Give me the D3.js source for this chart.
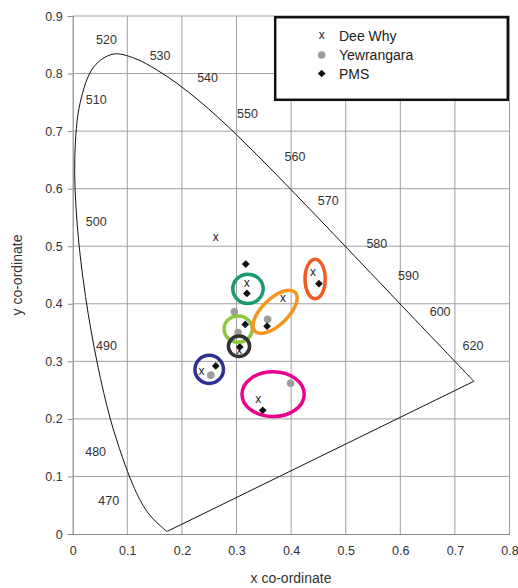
<!DOCTYPE html>
<html>
<head>
<meta charset="utf-8">
<script src="https://cdn.jsdelivr.net/npm/d3@7"></script>
<style>
  html, body { margin: 0; padding: 0; background: #fff; }
  svg { display: block; }
  text { font-family: "Liberation Sans", Arial, sans-serif; fill: #333; }
</style>
</head>
<body>
<svg id="chart" width="518" height="588"></svg>
<script>
// CIE 1931 spectral locus, 380–700 nm in 5 nm steps
const locusX = [0.1741,0.1740,0.1738,0.1736,0.1733,0.1730,0.1726,0.1721,0.1714,0.1703,0.1689,0.1669,0.1644,0.1611,0.1566,0.1510,0.1440,0.1355,0.1241,0.1096,0.0913,0.0687,0.0454,0.0235,0.0082,0.0039,0.0139,0.0389,0.0743,0.1142,0.1547,0.1929,0.2296,0.2658,0.3016,0.3373,0.3731,0.4087,0.4441,0.4788,0.5125,0.5448,0.5752,0.6029,0.6270,0.6482,0.6658,0.6801,0.6915,0.7006,0.7079,0.7140,0.7190,0.7230,0.7260,0.7283,0.7300,0.7311,0.7320,0.7327,0.7334,0.7340,0.7344,0.7346,0.7347];
const locusY = [0.0050,0.0050,0.0049,0.0049,0.0048,0.0048,0.0048,0.0048,0.0051,0.0058,0.0069,0.0086,0.0109,0.0138,0.0177,0.0227,0.0297,0.0399,0.0578,0.0868,0.1327,0.2007,0.2950,0.4127,0.5384,0.6548,0.7502,0.8120,0.8338,0.8262,0.8059,0.7816,0.7543,0.7243,0.6923,0.6589,0.6245,0.5896,0.5547,0.5202,0.4866,0.4544,0.4242,0.3965,0.3725,0.3514,0.3340,0.3197,0.3083,0.2993,0.2920,0.2859,0.2809,0.2770,0.2740,0.2717,0.2700,0.2689,0.2680,0.2673,0.2666,0.2660,0.2656,0.2654,0.2653];

// wavelength labels (nm) and where they sit in chromaticity space
const waveLabels = ["520","530","540","550","560","570","580","590","600","620","510","500","490","480","470"];
const waveX = [0.062,0.160,0.247,0.320,0.407,0.468,0.557,0.615,0.673,0.733,0.043,0.043,0.062,0.042,0.066];
const waveY = [0.859,0.831,0.793,0.730,0.656,0.579,0.504,0.449,0.386,0.327,0.754,0.543,0.327,0.143,0.058];

// sample chromaticities
const deeWhyX = [0.262,0.319,0.385,0.440,0.305,0.236,0.340];
const deeWhyY = [0.514,0.434,0.408,0.453,0.318,0.282,0.233];
const yewrangaraX = [0.296,0.357,0.303,0.253,0.399];
const yewrangaraY = [0.386,0.373,0.350,0.276,0.262];
const pmsX = [0.317,0.319,0.316,0.356,0.451,0.306,0.262,0.348];
const pmsY = [0.469,0.418,0.364,0.361,0.435,0.325,0.292,0.215];

// grouping rings: centre, semi-axes (chromaticity units), tilt in degrees
const ringCX = [0.321,0.303,0.3046,0.250,0.367,0.444,0.3707];
const ringCY = [0.426,0.356,0.326,0.286,0.243,0.443,0.386];
const ringRX = [0.0278,0.0258,0.0194,0.0261,0.0570,0.0185,0.0513];
const ringRY = [0.0254,0.0228,0.0178,0.0245,0.0389,0.0343,0.0226];
const ringTilt = [0,0,0,0,0,0,-44];
const ringColors = ["#1b9a6c","#8dc63f","#333333","#2e3192","#ec008c","#f15a22","#f7941d"];

const xTicks = [0,0.1,0.2,0.3,0.4,0.5,0.6,0.7,0.8];
const yTicks = [0,0.1,0.2,0.3,0.4,0.5,0.6,0.7,0.8,0.9];
const legendNames = ["Dee Why","Yewrangara","PMS"];

const svg = d3.select("#chart");
const x = d3.scaleLinear().domain([0, 0.8]).range([72.7, 509.5]);
const y = d3.scaleLinear().domain([0, 0.9]).range([534, 16]);

// grid
const grid = svg.append("g").attr("stroke", "#a0a0a0").attr("stroke-width", 1);
grid.selectAll("line.v").data(xTicks.slice(1)).join("line")
  .attr("x1", d => x(d)).attr("x2", d => x(d))
  .attr("y1", y(0)).attr("y2", y(0.9));
grid.selectAll("line.h").data(yTicks.slice(1)).join("line")
  .attr("x1", x(0)).attr("x2", x(0.8))
  .attr("y1", d => y(d)).attr("y2", d => y(d));

// axes
const yAxis = svg.append("g").attr("transform", `translate(${x(0)},0)`)
  .call(d3.axisLeft(y).tickValues(yTicks).tickFormat(d3.format("")).tickSize(5).tickPadding(5));
const xAxis = svg.append("g").attr("transform", `translate(0,${y(0)})`)
  .call(d3.axisBottom(x).tickValues(xTicks).tickFormat(d3.format("")).tickSize(0).tickPadding(12));
[yAxis, xAxis].forEach(a => {
  a.selectAll("path.domain").attr("stroke", "#8a8a8a").attr("stroke-width", 1.2);
  a.selectAll(".tick line").attr("stroke", "#8a8a8a");
  a.selectAll(".tick text").attr("fill", "#333")
    .style("font-family", '"Liberation Sans", Arial, sans-serif').style("font-size", "12.5px");
});

// axis titles
svg.append("text").attr("x", 291).attr("y", 583).attr("text-anchor", "middle")
  .style("font-size", "14px").text("x co-ordinate");
svg.append("text").attr("transform", "translate(22,275) rotate(-90)").attr("text-anchor", "middle")
  .style("font-size", "14px").text("y co-ordinate");

// spectral locus (smoothed) and the straight purple line closing it
const locusPts = locusX.map((v, i) => [v, locusY[i]]);
svg.append("path")
  .datum(locusPts)
  .attr("fill", "none").attr("stroke", "#111").attr("stroke-width", 1)
  .attr("d", d3.line().x(d => x(d[0])).y(d => y(d[1])).curve(d3.curveCatmullRom.alpha(0.5)));
svg.append("path")
  .datum([locusPts[locusPts.length - 1], locusPts[0]])
  .attr("fill", "none").attr("stroke", "#111").attr("stroke-width", 1)
  .attr("d", d3.line().x(d => x(d[0])).y(d => y(d[1])));

// wavelength labels
svg.append("g").selectAll("text").data(waveLabels).join("text")
  .attr("x", (d, i) => x(waveX[i])).attr("y", (d, i) => y(waveY[i]))
  .attr("dy", "0.35em").attr("text-anchor", "middle")
  .style("font-size", "12.5px").text(d => d);

// sample points
const diamond = d3.symbol().type(d3.symbolSquare).size(30);
svg.append("g").selectAll("circle").data(yewrangaraX).join("circle")
  .attr("cx", d => x(d)).attr("cy", (d, i) => y(yewrangaraY[i]))
  .attr("r", 3.8).attr("fill", "#9d9d9d");
svg.append("g").selectAll("path").data(pmsX).join("path")
  .attr("d", diamond)
  .attr("transform", (d, i) => `translate(${x(d)},${y(pmsY[i])}) rotate(45)`)
  .attr("fill", "#111");
svg.append("g").selectAll("text").data(deeWhyX).join("text")
  .attr("x", d => x(d)).attr("y", (d, i) => y(deeWhyY[i]) + 3.2)
  .attr("text-anchor", "middle").style("font-size", "12px").style("fill", "#222")
  .text("x");

// grouping rings
const kx = x(1) - x(0), ky = y(0) - y(1);
svg.append("g").selectAll("ellipse").data(ringCX).join("ellipse")
  .attr("transform", (d, i) => `translate(${x(d)},${y(ringCY[i])}) rotate(${ringTilt[i]})`)
  .attr("rx", (d, i) => ringRX[i] * kx)
  .attr("ry", (d, i) => ringRY[i] * ky)
  .attr("fill", "none")
  .attr("stroke", (d, i) => ringColors[i])
  .attr("stroke-width", 3.5);

// legend
const lg = svg.append("g");
lg.append("rect").attr("x", 275.2).attr("y", 17.2).attr("width", 232.6).attr("height", 82.6)
  .attr("fill", "#fff").attr("stroke", "#111").attr("stroke-width", 2.5);
const rowY = [36, 55, 73.5];
lg.append("text").attr("x", 321.7).attr("y", rowY[0] + 3.2).attr("text-anchor", "middle")
  .style("font-size", "12px").style("fill", "#222").text("x");
lg.append("circle").attr("cx", 321.7).attr("cy", rowY[1]).attr("r", 3.8).attr("fill", "#9d9d9d");
lg.append("path").attr("d", diamond).attr("transform", `translate(321.7,${rowY[2]}) rotate(45)`).attr("fill", "#111");
lg.selectAll("text.name").data(legendNames).join("text").attr("class", "name")
  .attr("x", 339).attr("y", (d, i) => rowY[i]).attr("dy", "0.36em")
  .style("font-size", "14px").style("fill", "#222").text(d => d);
</script>
</body>
</html>
